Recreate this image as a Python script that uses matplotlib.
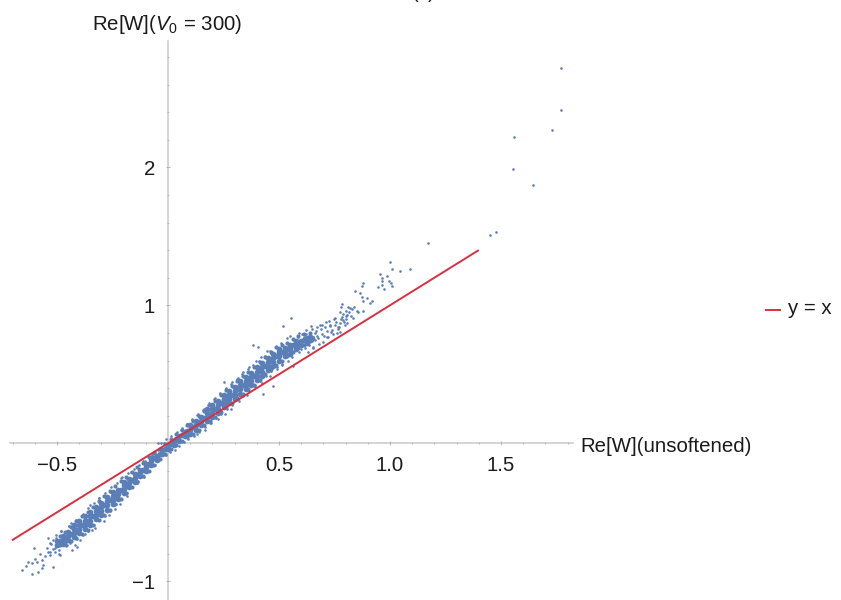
import matplotlib
matplotlib.use("Agg")
import matplotlib.pyplot as plt

plt.rcParams["font.family"] = ["Liberation Sans", "DejaVu Sans"]
plt.rcParams["mathtext.fontset"] = "custom"
plt.rcParams["mathtext.rm"] = "Liberation Sans"
plt.rcParams["mathtext.it"] = "Liberation Sans:italic"

# dense part of the cloud, one x per column with the y values read in that column
band_x = [-0.500, -0.475, -0.450, -0.425, -0.400, -0.375, -0.350, -0.325, -0.300, -0.275,
          -0.250, -0.225, -0.200, -0.175, -0.150, -0.125, -0.100, -0.075, -0.050, -0.025,
          0.000, 0.025, 0.050, 0.075, 0.100, 0.125, 0.150, 0.175, 0.200, 0.225,
          0.250, 0.275, 0.300, 0.325, 0.350, 0.375, 0.400, 0.425, 0.450, 0.475,
          0.500, 0.525, 0.550, 0.575, 0.600, 0.625, 0.650]
band_y = [[-0.74, -0.71],
          [-0.73, -0.70, -0.67],
          [-0.70, -0.67, -0.64],
          [-0.68, -0.65, -0.62, -0.59],
          [-0.65, -0.62, -0.59, -0.56],
          [-0.62, -0.59, -0.56, -0.53],
          [-0.59, -0.56, -0.53, -0.50],
          [-0.55, -0.52, -0.49, -0.46],
          [-0.52, -0.49, -0.46, -0.43],
          [-0.48, -0.45, -0.42, -0.39],
          [-0.44, -0.41, -0.38, -0.35],
          [-0.40, -0.37, -0.34],
          [-0.36, -0.33, -0.30, -0.28],
          [-0.32, -0.29, -0.26],
          [-0.28, -0.25, -0.22],
          [-0.24, -0.21, -0.19],
          [-0.20, -0.17, -0.15],
          [-0.16, -0.13, -0.11],
          [-0.12, -0.09],
          [-0.08, -0.05],
          [-0.04, -0.01],
          [-0.01, 0.02],
          [0.02, 0.05],
          [0.05, 0.08],
          [0.07, 0.10, 0.13],
          [0.10, 0.13, 0.16],
          [0.13, 0.16, 0.19],
          [0.16, 0.19, 0.22, 0.25],
          [0.19, 0.22, 0.25, 0.28],
          [0.22, 0.25, 0.28, 0.31],
          [0.26, 0.29, 0.32, 0.35],
          [0.29, 0.32, 0.35, 0.38],
          [0.32, 0.35, 0.38, 0.41],
          [0.36, 0.39, 0.42, 0.45],
          [0.39, 0.42, 0.45, 0.48],
          [0.42, 0.45, 0.48, 0.51],
          [0.46, 0.49, 0.52, 0.55],
          [0.49, 0.52, 0.55, 0.58],
          [0.53, 0.56, 0.59, 0.62],
          [0.56, 0.59, 0.62, 0.65],
          [0.60, 0.63, 0.66, 0.68],
          [0.63, 0.66, 0.69],
          [0.65, 0.68, 0.71],
          [0.68, 0.71, 0.74],
          [0.71, 0.74],
          [0.73, 0.76],
          [0.76]]

# columns read between the ones above: low edge, middle, high edge
fill_x = [-0.4875, -0.4625, -0.4375, -0.4125, -0.3875, -0.3625, -0.3375, -0.3125, -0.2875, -0.2625,
          -0.2375, -0.2125, -0.1875, -0.1625, -0.1375, -0.1125, -0.0875, -0.0625, -0.0375, -0.0125,
          0.0125, 0.0375, 0.0625, 0.0875, 0.1125, 0.1375, 0.1625, 0.1875, 0.2125, 0.2375,
          0.2625, 0.2875, 0.3125, 0.3375, 0.3625, 0.3875, 0.4125, 0.4375, 0.4625, 0.4875,
          0.5125, 0.5375, 0.5625, 0.5875, 0.6125, 0.6375]
fill_low = [-0.74, -0.725, -0.705, -0.685, -0.655, -0.625, -0.59, -0.555, -0.52, -0.48,
            -0.44, -0.40, -0.36, -0.32, -0.28, -0.24, -0.20, -0.155, -0.115, -0.075,
            -0.04, -0.01, 0.02, 0.045, 0.07, 0.10, 0.13, 0.16, 0.19, 0.225,
            0.26, 0.29, 0.325, 0.36, 0.39, 0.425, 0.46, 0.50, 0.535, 0.57,
            0.60, 0.63, 0.66, 0.69, 0.71, 0.74]
fill_mid = [-0.705, -0.68, -0.655, -0.625, -0.59, -0.56, -0.525, -0.49, -0.45, -0.41,
            -0.375, -0.34, -0.30, -0.265, -0.23, -0.19, -0.15, -0.11, -0.08, -0.04,
            -0.005, 0.03, 0.06, 0.09, 0.12, 0.15, 0.18, 0.215, 0.25, 0.29,
            0.32, 0.35, 0.39, 0.42, 0.455, 0.49, 0.525, 0.56, 0.60, 0.63,
            0.66, 0.68, 0.71, 0.73, 0.75, 0.77]
fill_high = [-0.67, -0.64, -0.61, -0.565, -0.53, -0.495, -0.46, -0.42, -0.385, -0.345,
             -0.31, -0.275, -0.245, -0.21, -0.175, -0.14, -0.10, -0.07, -0.04, -0.005,
             0.03, 0.065, 0.095, 0.13, 0.165, 0.20, 0.235, 0.275, 0.31, 0.35,
             0.385, 0.415, 0.45, 0.485, 0.52, 0.555, 0.59, 0.625, 0.66, 0.695,
             0.715, 0.73, 0.755, 0.775, 0.79, 0.80]

# single points that can be told apart
stray_x = [1.769, 1.769, 1.731, 1.560, 1.553, 1.644, 1.477, 1.449, 1.170, 1.001,
           1.010, 1.046, 1.089, 0.955, 0.988, 0.964, 0.965, 0.997, 1.006, 1.010,
           0.947, 0.964, 0.972, 0.880, 0.872, 0.842, 0.863, 0.875, 0.877, 0.896,
           0.910, 0.920, 0.880, 0.856, 0.820, 0.800, 0.810, 0.830, 0.840, 0.790,
           0.800, 0.815, 0.775, 0.780, 0.785, 0.554, 0.520, 0.384, 0.407, 0.250,
           0.427, 0.472, 0.655, 0.630, 0.565, -0.659, -0.611, -0.602, -0.629, -0.614,
           -0.591, -0.569, -0.562, -0.584, -0.569, -0.517, -0.547, -0.539, -0.532, -0.509,
           -0.517, -0.486, -0.434, -0.419, -0.408, -0.344, -0.640, -0.600, -0.578, -0.555,
           -0.540, -0.525, -0.510, -0.498, -0.520, -0.493, -0.470, -0.462, -0.447, -0.435,
           -0.482, -0.505, -0.455, -0.395, -0.372, -0.330, -0.290, -0.268, -0.240, -0.215,
           -0.186, -0.160, -0.135, -0.350, -0.310, -0.262, -0.205, -0.165, -0.112, -0.060,
           -0.040, -0.020, 0.015, 0.040, 0.062, 0.085, 0.108, 0.130, 0.157, 0.180,
           0.205, 0.232, 0.262, 0.290, 0.315, 0.340, 0.365, 0.395, 0.420, 0.445,
           0.130, 0.165, 0.195, 0.225, 0.255, 0.285, 0.320, 0.355, 0.390, 0.425,
           0.460, 0.490, 0.515, 0.540, 0.560, 0.572, 0.585, 0.597, 0.610, 0.622,
           0.635, 0.647, 0.660, 0.672, 0.685, 0.697, 0.710, 0.722, 0.735, 0.748,
           0.760, 0.772, 0.785, 0.798, 0.565, 0.578, 0.590, 0.603, 0.615, 0.628,
           0.640, 0.652, 0.667, 0.680, 0.692, 0.705, 0.718, 0.730, 0.742, 0.755,
           0.768, 0.780, 0.795, 0.808, 0.825, 0.850, 0.560, 0.575, 0.588, 0.600,
           0.612, 0.625, 0.637, 0.650, 0.662, 0.677, 0.690, 0.703, 0.715, 0.728,
           0.740, 0.752, 0.765, 0.777, 0.790, 0.803, 0.590, 0.620, 0.645, 0.670,
           0.695, 0.725, 0.750, 0.775, 0.805, 0.835]
stray_y = [2.717, 2.413, 2.272, 2.217, 1.985, 1.872, 1.533, 1.509, 1.454, 1.314,
           1.265, 1.246, 1.260, 1.227, 1.212, 1.195, 1.176, 1.179, 1.159, 1.140,
           1.130, 1.147, 1.120, 1.159, 1.140, 1.106, 1.087, 1.058, 1.033, 1.050,
           1.017, 1.033, 0.959, 0.948, 0.978, 0.960, 0.990, 0.970, 0.985, 0.940,
           0.920, 0.950, 0.955, 0.985, 1.010, 0.906, 0.853, 0.712, 0.700, 0.444,
           0.355, 0.415, 0.688, 0.665, 0.562, -0.918, -0.949, -0.760, -0.857, -0.869,
           -0.857, -0.845, -0.881, -0.930, -0.905, -0.893, -0.760, -0.688, -0.785, -0.760,
           -0.700, -0.810, -0.773, -0.737, -0.749, -0.628, -0.890, -0.835, -0.800, -0.820,
           -0.790, -0.730, -0.790, -0.745, -0.765, -0.775, -0.725, -0.640, -0.600, -0.580,
           -0.635, -0.665, -0.735, -0.700, -0.660, -0.615, -0.565, -0.520, -0.475, -0.440,
           -0.380, -0.320, -0.275, -0.450, -0.395, -0.350, -0.245, -0.205, -0.130, -0.060,
           -0.040, 0.005, 0.050, 0.080, 0.110, 0.140, 0.170, 0.205, 0.240, 0.280,
           0.320, 0.360, 0.395, 0.445, 0.470, 0.515, 0.550, 0.595, 0.625, 0.670,
           0.065, 0.095, 0.150, 0.175, 0.215, 0.245, 0.305, 0.350, 0.410, 0.440,
           0.490, 0.540, 0.575, 0.600, 0.625, 0.735, 0.770, 0.685, 0.740, 0.790,
           0.710, 0.825, 0.745, 0.775, 0.860, 0.735, 0.880, 0.770, 0.805, 0.900,
           0.800, 0.845, 0.915, 0.860, 0.660, 0.705, 0.660, 0.790, 0.690, 0.760,
           0.800, 0.700, 0.815, 0.720, 0.790, 0.845, 0.770, 0.850, 0.790, 0.880,
           0.825, 0.900, 0.880, 0.930, 0.925, 0.960, 0.710, 0.680, 0.735, 0.715,
           0.770, 0.730, 0.760, 0.740, 0.800, 0.760, 0.825, 0.775, 0.815, 0.860,
           0.820, 0.855, 0.840, 0.870, 0.895, 0.900, 0.800, 0.820, 0.850, 0.840,
           0.860, 0.885, 0.910, 0.810, 0.870, 0.905]

# points on the rough upper and lower edge of the cloud
fringe_x = [-0.530, -0.505, -0.480, -0.445, -0.415, -0.385, -0.360, -0.335, -0.310, -0.285,
            -0.255, -0.230, -0.210, -0.180, -0.155, -0.130, -0.105, -0.070, -0.045, -0.030,
            -0.010, -0.045, -0.530, -0.490, -0.460, -0.440, -0.410, -0.385, -0.360, -0.335,
            -0.310, -0.285, -0.260, -0.235, -0.210, -0.185, -0.160, -0.140, -0.110, -0.085,
            -0.060, -0.035, -0.010, 0.010, 0.030, 0.050, 0.060, 0.085, 0.110, 0.135,
            0.160, 0.185, 0.210, 0.235, 0.260, 0.285, 0.310, 0.335, 0.360, 0.385,
            0.410, 0.435, 0.460, 0.485, 0.510, 0.535, 0.550, 0.070, 0.090, 0.115,
            0.140, 0.165, 0.190, 0.215, 0.240, 0.265, 0.290, 0.315, 0.340, 0.365,
            0.390, 0.415, 0.440, 0.465, 0.490, 0.515]
fringe_y = [-0.720, -0.685, -0.635, -0.600, -0.555, -0.515, -0.470, -0.430, -0.395, -0.360,
            -0.315, -0.285, -0.250, -0.215, -0.185, -0.155, -0.125, -0.085, -0.050, 0.005,
            0.030, 0.000, -0.810, -0.800, -0.745, -0.720, -0.690, -0.665, -0.635, -0.595,
            -0.555, -0.525, -0.490, -0.440, -0.405, -0.360, -0.320, -0.290, -0.245, -0.200,
            -0.160, -0.115, -0.085, -0.060, -0.045, -0.020, 0.100, 0.140, 0.175, 0.210,
            0.245, 0.295, 0.330, 0.365, 0.400, 0.430, 0.465, 0.500, 0.535, 0.565,
            0.600, 0.635, 0.670, 0.700, 0.730, 0.760, 0.780, 0.010, 0.030, 0.050,
            0.085, 0.115, 0.150, 0.180, 0.210, 0.250, 0.280, 0.320, 0.345, 0.380,
            0.420, 0.450, 0.490, 0.525, 0.550, 0.570]

line_x = [-0.703, 1.40]
line_y = [-0.703, 1.40]

x_major = [-0.5, 0.5, 1.0, 1.5]
x_labels = ["\u22120.5", "0.5", "1.0", "1.5"]
x_minor = [-0.7, -0.6, -0.4, -0.3, -0.2, -0.1, 0.1, 0.2, 0.3, 0.4, 0.6, 0.7, 0.8, 0.9,
           1.1, 1.2, 1.3, 1.4, 1.6, 1.7, 1.8]
y_major = [-1, 1, 2]
y_labels = ["\u22121", "1", "2"]
y_minor = [-0.8, -0.6, -0.4, -0.2, 0.2, 0.4, 0.6, 0.8, 1.2, 1.4, 1.6, 1.8, 2.2, 2.4, 2.6, 2.8]

dot_color = "#5a7fb6"
red = "#d8303f"
axis_gray = "#c9c9c9"
text_color = "#1a1a1a"
fs = 14.7

fig = plt.figure(figsize=(8.41, 6.0), dpi=100)
# axes run over the whole figure so the origin can be placed by the limits
ax = fig.add_axes([0, 0, 1, 1])
ax.set_xlim((0 - 168) / 222, (841 - 168) / 222)
ax.set_ylim((443.3 - 600) / 138, 443.3 / 138)
ax.patch.set_alpha(0)

# axis lines only reach as far as the plot range
ax.plot([-0.712, 1.824], [0, 0], color=axis_gray, lw=1.1, zorder=1)
ax.plot([0, 0], [-1.14, 2.915], color=axis_gray, lw=1.1, zorder=1)
for s in ax.spines.values():
    s.set_visible(False)

ax.spines["bottom"].set_position(("data", 0))
ax.spines["left"].set_position(("data", 0))
ax.set_xticks(x_major)
ax.set_xticklabels(x_labels, fontsize=fs)
ax.set_xticks(x_minor, minor=True)
ax.set_yticks(y_major)
ax.set_yticklabels(y_labels, fontsize=fs)
ax.set_yticks(y_minor, minor=True)
ax.tick_params(axis="both", which="major", length=3, width=0.6, color="#aaaaaa", pad=8,
               direction="inout", labelcolor=text_color)
ax.tick_params(axis="both", which="minor", length=2, width=0.5, color="#aaaaaa", direction="inout")

cols_x = []
cols_y = []
for x, ys in zip(band_x, band_y):
    for y in ys:
        cols_x.append(x)
        cols_y.append(y)
ax.scatter(cols_x, cols_y, s=17, color=dot_color, linewidths=0, zorder=2)
ax.scatter(fill_x, fill_mid, s=17, color=dot_color, linewidths=0, zorder=2)
ax.scatter(fill_x, fill_low, s=9, color=dot_color, linewidths=0, zorder=2)
ax.scatter(fill_x, fill_high, s=9, color=dot_color, linewidths=0, zorder=2)
ax.scatter(stray_x, stray_y, s=3.5, color=dot_color, linewidths=0, zorder=2)
ax.scatter(fringe_x, fringe_y, s=3.5, color=dot_color, linewidths=0, zorder=2)

ax.plot(line_x, line_y, color=red, lw=1.4, zorder=3, solid_capstyle="butt", label="y = x")

ax.text(580 / 841, 1 - 446 / 600, "Re[W](unsoftened)", transform=ax.transAxes, fontsize=fs,
        color=text_color, va="center", ha="left")
ax.text(92 / 841, 1 - 24 / 600, "Re[W]($V_0$ = 300)", transform=ax.transAxes, fontsize=fs,
        color=text_color, va="center", ha="left")
# panel letter, almost entirely cut off by the top edge in the reference
ax.text(424 / 841, 1 + 2.4 / 600, "(c)", transform=ax.transAxes, fontsize=fs,
        color=text_color, va="baseline", ha="center", clip_on=False)

# legend entry sits out in the right margin
ax.plot([(765 - 168) / 222, (781 - 168) / 222], [(443.3 - 309.5) / 138] * 2, color=red, lw=1.4,
        solid_capstyle="butt")
ax.text(788 / 841, 1 - 308.5 / 600, "y = x", transform=ax.transAxes, fontsize=fs,
        color=text_color, va="center", ha="left")

fig.savefig("out.png", dpi=100)
